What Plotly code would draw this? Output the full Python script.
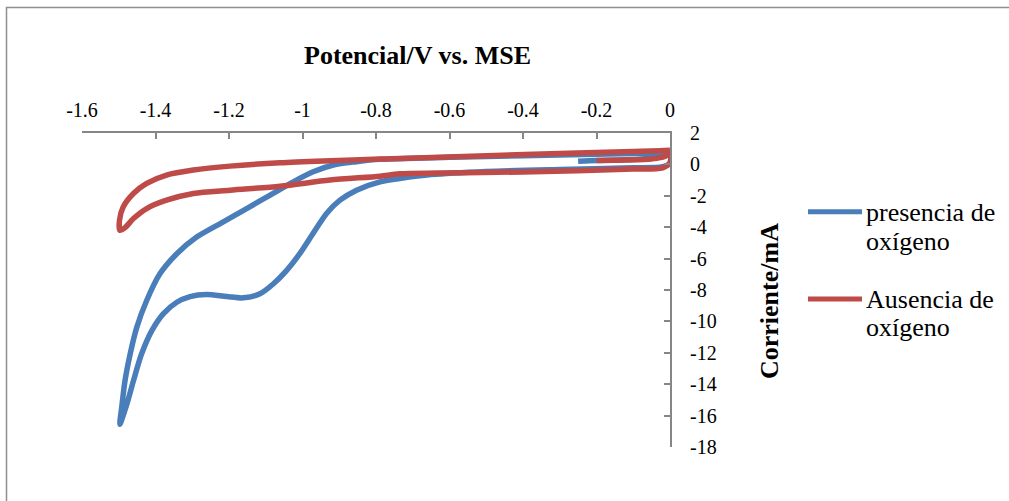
import plotly.graph_objects as go

# Cyclic voltammograms: potential (V vs. MSE) and current (mA)
pot_con_o2 = [-0.25, -0.2, -0.12, -0.05, -0.01, 0.0, 0.0, -0.02, -0.1, -0.3, -0.5, -0.65,
              -0.735, -0.789, -0.853, -0.898, -0.934, -0.971, -1.007, -1.043, -1.079,
              -1.116, -1.161, -1.206, -1.261, -1.306, -1.342, -1.379, -1.410, -1.438,
              -1.460, -1.478, -1.497, -1.492, -1.483, -1.469, -1.451, -1.424, -1.388,
              -1.342, -1.288, -1.224, -1.152, -1.088, -1.025, -0.971, -0.916, -0.853,
              -0.789, -0.6, -0.4, -0.2, -0.05, 0.0]
cor_con_o2 = [0.2, 0.25, 0.3, 0.4, 0.55, 0.7, 0.1, -0.15, -0.22, -0.32, -0.45, -0.65,
              -0.9, -1.11, -1.64, -2.28, -3.11, -4.39, -5.67, -6.75, -7.60,
              -8.24, -8.50, -8.42, -8.29, -8.42, -8.78, -9.52, -10.59, -12.08,
              -13.78, -15.27, -16.55, -15.49, -13.78, -12.08, -10.38, -8.67, -6.97,
              -5.69, -4.63, -3.77, -2.81, -1.96, -1.11, -0.47, -0.04, 0.17,
              0.32, 0.45, 0.55, 0.65, 0.72, 0.75]

pot_sin_o2 = [-0.2, -0.12, -0.05, -0.015, 0.0, 0.0, -0.02, -0.1, -0.372, -0.735, -0.789,
              -0.925, -1.061, -1.197, -1.297, -1.370, -1.424, -1.460, -1.483, -1.497,
              -1.498, -1.488, -1.460, -1.424, -1.370, -1.297, -1.197, -1.061, -0.925,
              -0.789, -0.735, -0.372, -0.1, -0.027, 0.0]
cor_sin_o2 = [0.25, 0.28, 0.35, 0.5, 0.8, 0.1, -0.22, -0.3, -0.47, -0.6, -0.75,
              -1.0, -1.39, -1.64, -1.85, -2.28, -2.81, -3.45, -4.03, -4.20,
              -3.56, -2.71, -1.85, -1.21, -0.68, -0.36, -0.11, 0.10, 0.23,
              0.34, 0.38, 0.64, 0.82, 0.87, 0.9]

series_names = ["presencia de", "oxígeno", "Ausencia de", "oxígeno"]
x_ticks = [-1.6, -1.4, -1.2, -1.0, -0.8, -0.6, -0.4, -0.2, 0.0]
x_tick_text = ["-1.6", "-1.4", "-1.2", "-1", "-0.8", "-0.6", "-0.4", "-0.2", "0"]
y_ticks = [2, 0, -2, -4, -6, -8, -10, -12, -14, -16, -18]
y_tick_text = ["2", "0", "-2", "-4", "-6", "-8", "-10", "-12", "-14", "-16", "-18"]

BLUE = "#4a7ebb"
RED = "#be4b48"
AXIS = "#868686"
FONT = "'Liberation Serif', 'Times New Roman', Times, serif"

W, H = 1009, 501
L, R, T, B = 82, 339, 133, 54


def fx(p):
    return (p - L) / (W - L - R)


def fy(p):
    return (H - B - p) / (H - T - B)


fig = go.Figure()
fig.add_trace(go.Scatter(x=pot_con_o2, y=cor_con_o2, mode="lines",
                         line=dict(color=BLUE, width=5.5, shape="spline", smoothing=0.8),
                         name="presencia de oxígeno", showlegend=False))
fig.add_trace(go.Scatter(x=pot_sin_o2, y=cor_sin_o2, mode="lines",
                         line=dict(color=RED, width=5.5, shape="spline", smoothing=0.8),
                         name="Ausencia de oxígeno", showlegend=False))

annotations = [
    dict(text="<b>Potencial/V vs. MSE</b>", x=fx(417.5), y=fy(55.5),
         font=dict(size=26)),
    dict(text="<b>Corriente/mA</b>", x=fx(769), y=fy(301), textangle=-90,
         font=dict(size=26)),
]
legend_rows = [(series_names[0], 212.7), (series_names[1], 241.0),
               (series_names[2], 299.0), (series_names[3], 327.7)]
for txt, yc in legend_rows:
    annotations.append(dict(text=txt, x=fx(864), y=fy(yc), xanchor="left",
                            font=dict(size=26)))
for a in annotations:
    a.update(xref="paper", yref="paper", showarrow=False)
    a.setdefault("xanchor", "center")
    a["yanchor"] = "middle"
    a["font"].update(family=FONT, color="black")

shapes = [
    # chart frame
    dict(type="rect", xref="paper", yref="paper", x0=fx(6.5), x1=fx(1015),
         y0=fy(7.5), y1=fy(510), line=dict(color="#8f8f8f", width=1.5)),
    # legend keys
    dict(type="line", xref="paper", yref="paper", x0=fx(808), x1=fx(862),
         y0=fy(211.7), y1=fy(211.7), line=dict(color=BLUE, width=5)),
    dict(type="line", xref="paper", yref="paper", x0=fx(808), x1=fx(862),
         y0=fy(299), y1=fy(299), line=dict(color=RED, width=5)),
]

fig.update_layout(
    width=W, height=H, autosize=False,
    margin=dict(l=L, r=R, t=T, b=B, pad=0),
    paper_bgcolor="white", plot_bgcolor="white",
    font=dict(family=FONT, color="black", size=20),
    showlegend=False,
    annotations=annotations,
    shapes=shapes,
    xaxis=dict(range=[-1.6, 0], side="top", tickvals=x_ticks, ticktext=x_tick_text,
               showgrid=False, zeroline=False, showline=True, linecolor=AXIS,
               linewidth=2, ticks="inside", ticklen=6, tickwidth=1.5,
               tickcolor=AXIS, ticklabelstandoff=6,
               tickfont=dict(size=20, family=FONT, color="black")),
    yaxis=dict(range=[-18, 2], side="right", tickvals=y_ticks, ticktext=y_tick_text,
               showgrid=False, zeroline=False, showline=True, linecolor=AXIS,
               linewidth=2, ticks="inside", ticklen=6, tickwidth=1.5,
               tickcolor=AXIS, ticklabelstandoff=14,
               tickfont=dict(size=20, family=FONT, color="black")),
)

fig.write_html("out.html")
